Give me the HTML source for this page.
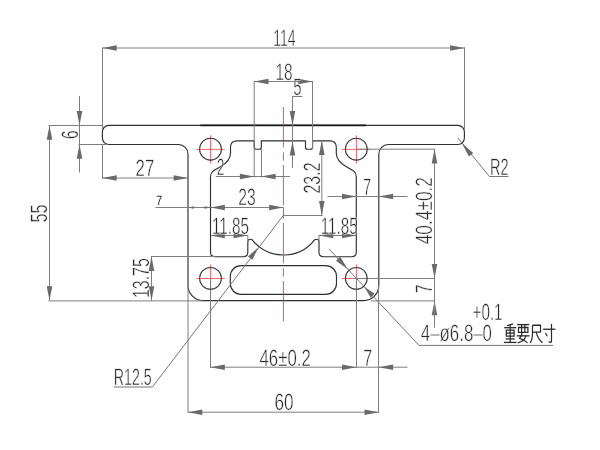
<!DOCTYPE html>
<html><head><meta charset="utf-8"><title>Profile drawing</title>
<style>
html,body{margin:0;padding:0;background:#fff;}
body{width:600px;height:450px;overflow:hidden;}
svg{display:block;will-change:transform;}
svg text{font-family:"Liberation Sans",sans-serif;text-rendering:geometricPrecision;stroke:#fff;stroke-width:0.45px;paint-order:fill stroke;}
</style></head>
<body>
<svg width="600" height="450" viewBox="0 0 600 450">
<rect x="0" y="0" width="600" height="450" fill="#ffffff"/>
<path d="M108.80000000000001,125.4 L458.0,125.4 A6.4,6.4 0 0 1 464.4,131.8 L464.4,138.1 A6.4,6.4 0 0 1 458.0,144.5 L388.29999999999995,144.5 A9.5,9.5 0 0 0 378.79999999999995,154.0 L378.79999999999995,285.6 A15.0,15.0 0 0 1 363.79999999999995,300.6 L203.0,300.6 A15.0,15.0 0 0 1 188.0,285.6 L188.0,154.0 A9.5,9.5 0 0 0 178.5,144.5 L108.80000000000001,144.5 A6.4,6.4 0 0 1 102.4,138.1 L102.4,131.8 A6.4,6.4 0 0 1 108.80000000000001,125.4 Z" fill="none" stroke="#303030" stroke-width="1.15" stroke-linejoin="round"/>
<line x1="200.30" y1="125.40" x2="366.00" y2="125.40" stroke="#1c1c1c" stroke-width="1.7" />
<path d="M210.5,176.5 C210.5,171 215.5,169.6 220.5,166.8 C225.5,163.9 230.3,160 230.5,153.5 L230.5,147.3 Q230.5,140.8 237.0,140.8 L254.2,140.8 L254.2,147.2 Q254.2,149.2 256.2,149.2 L259.3,149.2 Q261.3,149.2 261.3,147.2 L261.3,140.8 L305.49999999999994,140.8 L305.49999999999994,147.2 Q305.49999999999994,149.2 307.49999999999994,149.2 L310.59999999999997,149.2 Q312.59999999999997,149.2 312.59999999999997,147.2 L312.59999999999997,140.8 L329.79999999999995,140.8 Q336.29999999999995,140.8 336.29999999999995,147.3 L336.29999999999995,153.5 C336.49999999999994,160 341.29999999999995,163.9 346.29999999999995,166.8 C351.29999999999995,169.6 356.29999999999995,171 356.29999999999995,176.5 L356.29999999999995,252.2 Q356.29999999999995,256.7 351.79999999999995,256.7 L323.49999999999994,256.7 Q318.99999999999994,256.7 318.99999999999994,252.2 L318.99999999999994,242 C318.99999999999994,240 317.99999999999994,239.2 316.49999999999994,239.2 C315.59999999999997,239.2 315.09999999999997,239.4 314.59999999999997,239.8 A39.7,39.7 0 0 1 252.2,239.8 C251.7,239.4 251.2,239.2 250.3,239.2 C248.8,239.2 247.8,240 247.8,242 L247.8,252.2 Q247.8,256.7 243.3,256.7 L215.0,256.7 Q210.5,256.7 210.5,252.2 Z" fill="none" stroke="#303030" stroke-width="1.15" stroke-linejoin="round"/>
<rect x="230.3" y="265.6" width="106.20" height="28.8" rx="10.8" ry="10.8" fill="none" stroke="#303030" stroke-width="1.15"/>
<line x1="283.40" y1="107.00" x2="283.40" y2="322.50" stroke="#e8343a" stroke-width="0.85" stroke-dasharray="40.3 5 8.4 4.3"/>
<line x1="196.20" y1="149.40" x2="224.80" y2="149.40" stroke="#e8343a" stroke-width="0.75" />
<line x1="210.60" y1="135.40" x2="210.60" y2="163.50" stroke="#e8343a" stroke-width="0.75" />
<line x1="196.20" y1="278.50" x2="224.80" y2="278.50" stroke="#e8343a" stroke-width="0.75" />
<line x1="210.60" y1="264.50" x2="210.60" y2="292.60" stroke="#e8343a" stroke-width="0.75" />
<line x1="342.00" y1="149.40" x2="370.60" y2="149.40" stroke="#e8343a" stroke-width="0.75" />
<line x1="356.40" y1="135.40" x2="356.40" y2="163.50" stroke="#e8343a" stroke-width="0.75" />
<line x1="342.00" y1="278.50" x2="370.60" y2="278.50" stroke="#e8343a" stroke-width="0.75" />
<line x1="356.40" y1="264.50" x2="356.40" y2="292.60" stroke="#e8343a" stroke-width="0.75" />
<line x1="102.50" y1="47.30" x2="102.50" y2="129.40" stroke="#7e7e7e" stroke-width="1.0" />
<line x1="464.50" y1="47.30" x2="464.50" y2="129.40" stroke="#7e7e7e" stroke-width="1.0" />
<line x1="102.40" y1="48.00" x2="464.40" y2="48.00" stroke="#7e7e7e" stroke-width="1.0" />
<polygon points="102.40,48.00 116.70,45.20 116.70,50.80" fill="#6a6a6a"/>
<polygon points="464.40,48.00 450.10,50.80 450.10,45.20" fill="#6a6a6a"/>
<text x="273.30" y="45.80" font-size="23.6" textLength="22.30" lengthAdjust="spacingAndGlyphs" fill="#2a2a2a">114</text>
<line x1="254.20" y1="81.00" x2="254.20" y2="177.50" stroke="#7e7e7e" stroke-width="1.0" />
<line x1="312.50" y1="81.00" x2="312.50" y2="149.20" stroke="#7e7e7e" stroke-width="1.0" />
<line x1="254.20" y1="81.50" x2="312.60" y2="81.50" stroke="#7e7e7e" stroke-width="1.0" />
<polygon points="254.20,81.50 268.50,78.70 268.50,84.30" fill="#6a6a6a"/>
<polygon points="312.60,81.50 298.30,84.30 298.30,78.70" fill="#6a6a6a"/>
<text x="275.50" y="79.50" font-size="23.6" textLength="17.10" lengthAdjust="spacingAndGlyphs" fill="#2a2a2a">18</text>
<line x1="292.50" y1="96.50" x2="302.50" y2="96.50" stroke="#7e7e7e" stroke-width="1.0" />
<line x1="292.50" y1="96.20" x2="292.50" y2="168.00" stroke="#7e7e7e" stroke-width="1.0" />
<polygon points="292.50,125.40 289.70,111.10 295.30,111.10" fill="#6a6a6a"/>
<polygon points="292.50,141.30 295.30,155.60 289.70,155.60" fill="#6a6a6a"/>
<text x="293.30" y="94.50" font-size="23.6" textLength="8.30" lengthAdjust="spacingAndGlyphs" fill="#2a2a2a">5</text>
<line x1="48.50" y1="125.50" x2="102.40" y2="125.50" stroke="#7e7e7e" stroke-width="1.0" />
<line x1="78.50" y1="144.50" x2="106.40" y2="144.50" stroke="#7e7e7e" stroke-width="1.0" />
<line x1="79.50" y1="96.00" x2="79.50" y2="172.50" stroke="#7e7e7e" stroke-width="1.0" />
<polygon points="79.50,125.40 76.70,111.10 82.30,111.10" fill="#6a6a6a"/>
<polygon points="79.50,144.50 82.30,158.80 76.70,158.80" fill="#6a6a6a"/>
<text transform="translate(77.60,139.00) rotate(-90)" font-size="23.6" textLength="8.60" lengthAdjust="spacingAndGlyphs" fill="#2a2a2a">6</text>
<line x1="49.50" y1="125.40" x2="49.50" y2="300.60" stroke="#7e7e7e" stroke-width="1.0" />
<polygon points="49.50,125.40 52.30,139.70 46.70,139.70" fill="#6a6a6a"/>
<polygon points="49.50,300.60 46.70,286.30 52.30,286.30" fill="#6a6a6a"/>
<line x1="48.50" y1="300.90" x2="203.00" y2="300.90" stroke="#7e7e7e" stroke-width="1.0" />
<text transform="translate(47.30,222.50) rotate(-90)" font-size="23.6" textLength="18.00" lengthAdjust="spacingAndGlyphs" fill="#2a2a2a">55</text>
<line x1="102.50" y1="144.50" x2="102.50" y2="179.00" stroke="#7e7e7e" stroke-width="1.0" />
<line x1="102.40" y1="178.00" x2="188.00" y2="178.00" stroke="#7e7e7e" stroke-width="1.0" />
<polygon points="102.40,178.00 116.70,175.20 116.70,180.80" fill="#6a6a6a"/>
<polygon points="188.00,178.00 173.70,180.80 173.70,175.20" fill="#6a6a6a"/>
<text x="135.60" y="176.00" font-size="23.6" textLength="18.70" lengthAdjust="spacingAndGlyphs" fill="#2a2a2a">27</text>
<line x1="155.50" y1="207.50" x2="210.50" y2="207.50" stroke="#7e7e7e" stroke-width="1.0" />
<polygon points="188.00,207.50 194.00,206.20 194.00,208.80" fill="#6a6a6a"/>
<polygon points="210.50,207.50 204.50,208.80 204.50,206.20" fill="#6a6a6a"/>
<text x="156.30" y="205.30" font-size="13.3" textLength="5.90" lengthAdjust="spacingAndGlyphs" fill="#2a2a2a" style="stroke:none">7</text>
<line x1="210.50" y1="207.50" x2="283.40" y2="207.50" stroke="#7e7e7e" stroke-width="1.0" />
<polygon points="210.50,207.50 224.80,204.70 224.80,210.30" fill="#6a6a6a"/>
<polygon points="283.40,207.50 269.10,210.30 269.10,204.70" fill="#6a6a6a"/>
<line x1="283.50" y1="207.30" x2="283.50" y2="215.30" stroke="#7e7e7e" stroke-width="1.0" />
<text x="238.20" y="205.00" font-size="23.6" textLength="17.40" lengthAdjust="spacingAndGlyphs" fill="#2a2a2a">23</text>
<line x1="261.50" y1="149.20" x2="261.50" y2="177.50" stroke="#7e7e7e" stroke-width="1.0" />
<line x1="215.80" y1="176.50" x2="290.00" y2="176.50" stroke="#7e7e7e" stroke-width="1.0" />
<polygon points="254.20,176.50 239.90,179.30 239.90,173.70" fill="#6a6a6a"/>
<polygon points="261.30,176.50 275.60,173.70 275.60,179.30" fill="#6a6a6a"/>
<text x="217.00" y="174.70" font-size="23.6" textLength="7.20" lengthAdjust="spacingAndGlyphs" fill="#2a2a2a">2</text>
<line x1="283.40" y1="215.50" x2="322.50" y2="215.50" stroke="#7e7e7e" stroke-width="1.0" />
<line x1="321.80" y1="140.80" x2="321.80" y2="215.30" stroke="#7e7e7e" stroke-width="1.0" />
<polygon points="321.80,140.80 324.60,155.10 319.00,155.10" fill="#6a6a6a"/>
<polygon points="321.80,215.30 319.00,201.00 324.60,201.00" fill="#6a6a6a"/>
<text transform="translate(319.80,193.50) rotate(-90)" font-size="23.6" textLength="31.00" lengthAdjust="spacingAndGlyphs" fill="#2a2a2a">23.2</text>
<line x1="327.50" y1="196.50" x2="407.50" y2="196.50" stroke="#7e7e7e" stroke-width="1.0" />
<polygon points="356.30,196.50 342.00,199.30 342.00,193.70" fill="#6a6a6a"/>
<polygon points="378.80,196.50 393.10,193.70 393.10,199.30" fill="#6a6a6a"/>
<text x="363.20" y="194.50" font-size="23.6" textLength="7.80" lengthAdjust="spacingAndGlyphs" fill="#2a2a2a">7</text>
<line x1="356.30" y1="149.20" x2="435.20" y2="149.20" stroke="#7e7e7e" stroke-width="1.0" />
<line x1="356.30" y1="278.50" x2="435.20" y2="278.50" stroke="#7e7e7e" stroke-width="1.0" />
<line x1="434.50" y1="149.20" x2="434.50" y2="278.30" stroke="#7e7e7e" stroke-width="1.0" />
<polygon points="434.50,149.20 437.30,163.50 431.70,163.50" fill="#6a6a6a"/>
<polygon points="434.50,278.30 431.70,264.00 437.30,264.00" fill="#6a6a6a"/>
<text transform="translate(432.30,244.30) rotate(-90)" font-size="23.6" textLength="67.30" lengthAdjust="spacingAndGlyphs" fill="#2a2a2a">40.4±0.2</text>
<line x1="370.80" y1="300.90" x2="435.20" y2="300.90" stroke="#7e7e7e" stroke-width="1.0" />
<polygon points="434.50,300.90 437.30,315.20 431.70,315.20" fill="#6a6a6a"/>
<line x1="434.50" y1="278.30" x2="434.50" y2="327.50" stroke="#7e7e7e" stroke-width="1.0" />
<text transform="translate(432.30,293.00) rotate(-90)" font-size="23.6" textLength="8.40" lengthAdjust="spacingAndGlyphs" fill="#2a2a2a">7</text>
<line x1="151.00" y1="256.50" x2="215.50" y2="256.50" stroke="#7e7e7e" stroke-width="1.0" />
<line x1="151.50" y1="256.60" x2="151.50" y2="300.60" stroke="#7e7e7e" stroke-width="1.0" />
<polygon points="151.50,256.60 154.30,270.90 148.70,270.90" fill="#6a6a6a"/>
<polygon points="151.50,300.60 148.70,286.30 154.30,286.30" fill="#6a6a6a"/>
<text transform="translate(149.30,298.00) rotate(-90)" font-size="23.6" textLength="39.80" lengthAdjust="spacingAndGlyphs" fill="#2a2a2a">13.75</text>
<line x1="210.50" y1="235.50" x2="247.80" y2="235.50" stroke="#7e7e7e" stroke-width="1.0" />
<polygon points="210.50,235.50 224.80,232.70 224.80,238.30" fill="#6a6a6a"/>
<polygon points="247.80,235.50 233.50,238.30 233.50,232.70" fill="#6a6a6a"/>
<line x1="247.80" y1="235.00" x2="247.80" y2="243.00" stroke="#7e7e7e" stroke-width="1.0" />
<text x="212.00" y="233.80" font-size="23.6" textLength="37.00" lengthAdjust="spacingAndGlyphs" fill="#2a2a2a">11.85</text>
<line x1="319.00" y1="235.50" x2="356.30" y2="235.50" stroke="#7e7e7e" stroke-width="1.0" />
<polygon points="319.00,235.50 333.30,232.70 333.30,238.30" fill="#6a6a6a"/>
<polygon points="356.30,235.50 342.00,238.30 342.00,232.70" fill="#6a6a6a"/>
<line x1="319.00" y1="235.00" x2="319.00" y2="243.00" stroke="#7e7e7e" stroke-width="1.0" />
<text x="320.80" y="233.80" font-size="23.6" textLength="36.80" lengthAdjust="spacingAndGlyphs" fill="#2a2a2a">11.85</text>
<line x1="283.40" y1="215.30" x2="152.50" y2="386.80" stroke="#767676" stroke-width="1.0" />
<line x1="113.80" y1="387.00" x2="152.50" y2="387.00" stroke="#767676" stroke-width="1.0" />
<polygon points="258.20,247.60 252.36,259.87 247.90,256.47" fill="#6a6a6a"/>
<text x="113.80" y="385.00" font-size="23.6" textLength="38.00" lengthAdjust="spacingAndGlyphs" fill="#2a2a2a">R12.5</text>
<line x1="210.50" y1="278.30" x2="210.50" y2="368.00" stroke="#7e7e7e" stroke-width="1.0" />
<line x1="356.50" y1="278.30" x2="356.50" y2="368.00" stroke="#7e7e7e" stroke-width="1.0" />
<line x1="210.50" y1="367.20" x2="356.30" y2="367.20" stroke="#7e7e7e" stroke-width="1.0" />
<polygon points="210.50,367.20 224.80,364.40 224.80,370.00" fill="#6a6a6a"/>
<polygon points="356.30,367.20 342.00,370.00 342.00,364.40" fill="#6a6a6a"/>
<text x="259.50" y="365.80" font-size="23.6" textLength="51.30" lengthAdjust="spacingAndGlyphs" fill="#2a2a2a">46±0.2</text>
<line x1="356.30" y1="367.20" x2="407.50" y2="367.20" stroke="#7e7e7e" stroke-width="1.0" />
<polygon points="378.80,367.20 393.10,364.40 393.10,370.00" fill="#6a6a6a"/>
<text x="363.20" y="365.80" font-size="23.6" textLength="9.00" lengthAdjust="spacingAndGlyphs" fill="#2a2a2a">7</text>
<line x1="188.00" y1="285.60" x2="188.00" y2="413.00" stroke="#7e7e7e" stroke-width="1.0" />
<line x1="378.50" y1="285.60" x2="378.50" y2="413.00" stroke="#7e7e7e" stroke-width="1.0" />
<line x1="188.00" y1="412.20" x2="378.80" y2="412.20" stroke="#7e7e7e" stroke-width="1.0" />
<polygon points="188.00,412.20 202.30,409.40 202.30,415.00" fill="#6a6a6a"/>
<polygon points="378.80,412.20 364.50,415.00 364.50,409.40" fill="#6a6a6a"/>
<text x="274.50" y="409.50" font-size="23.6" textLength="19.10" lengthAdjust="spacingAndGlyphs" fill="#2a2a2a">60</text>
<line x1="457.60" y1="137.60" x2="489.30" y2="176.30" stroke="#767676" stroke-width="1.0" />
<line x1="489.30" y1="176.50" x2="508.50" y2="176.50" stroke="#767676" stroke-width="1.0" />
<polygon points="462.00,143.60 473.23,152.89 468.90,156.44" fill="#6a6a6a"/>
<text x="490.00" y="175.00" font-size="23.6" textLength="18.60" lengthAdjust="spacingAndGlyphs" fill="#2a2a2a">R2</text>
<line x1="329.20" y1="249.20" x2="418.80" y2="345.20" stroke="#767676" stroke-width="1.0" />
<line x1="418.80" y1="345.40" x2="553.00" y2="345.40" stroke="#767676" stroke-width="1.0" />
<polygon points="347.80,269.20 336.00,260.66 340.09,256.84" fill="#6a6a6a"/>
<polygon points="364.50,287.00 374.73,293.86 370.64,297.68" fill="#6a6a6a"/>
<text x="472.50" y="320.00" font-size="23.6" textLength="30.10" lengthAdjust="spacingAndGlyphs" fill="#2a2a2a">+0.1</text>
<text x="420.80" y="341.30" font-size="23.6" textLength="71.20" lengthAdjust="spacingAndGlyphs" fill="#2a2a2a">4–ø6.8–0</text>
<circle cx="210.50" cy="149.2" r="10.9" fill="none" stroke="#383838" stroke-width="1.05"/>
<circle cx="210.50" cy="278.3" r="10.9" fill="none" stroke="#383838" stroke-width="1.05"/>
<circle cx="356.30" cy="149.2" r="10.9" fill="none" stroke="#383838" stroke-width="1.05"/>
<circle cx="356.30" cy="278.3" r="10.9" fill="none" stroke="#383838" stroke-width="1.05"/>
<g transform="translate(503.90,323.30) scale(1,1.1)" fill="none" stroke="#2a2a2a" stroke-width="1.2" stroke-linecap="butt">
<path d="M9.2,0.6 L3.2,2.2"/>
<path d="M0.3,4 H12.3"/>
<path d="M2.4,6.2 H10.2 V11.6 H2.4 Z"/>
<path d="M2.4,8.9 H10.2"/>
<path d="M6.3,1.6 V17.2"/>
<path d="M1.8,14.2 H10.8"/>
<path d="M0,17.4 H12.6"/>
</g>
<g transform="translate(516.90,323.30) scale(1,1.1)" fill="none" stroke="#2a2a2a" stroke-width="1.2" stroke-linecap="butt">
<path d="M0.3,1.2 H12.3"/>
<path d="M1.6,3.8 H11 V8.2 H1.6 Z"/>
<path d="M4.7,1.2 V8.2"/>
<path d="M7.9,1.2 V8.2"/>
<path d="M0,11.4 H12.6"/>
<path d="M5.2,8.6 C4.6,10.8 3.6,12.6 2.8,13.6 C5.6,14.4 8.6,16 10.6,17.8"/>
<path d="M9,11.4 C8.2,14.6 5.2,16.8 0.8,17.8"/>
</g>
<g transform="translate(529.90,323.30) scale(1,1.1)" fill="none" stroke="#2a2a2a" stroke-width="1.2" stroke-linecap="butt">
<path d="M2.6,1.8 H10.6 V8 H2.6"/>
<path d="M2.6,1.8 V9 C2.6,13 1.8,16 0.2,17.8"/>
<path d="M6.2,8 C7.4,12 9.6,15.6 12.6,17.6"/>
</g>
<g transform="translate(542.90,323.30) scale(1,1.1)" fill="none" stroke="#2a2a2a" stroke-width="1.2" stroke-linecap="butt">
<path d="M0.2,5.4 H12.4"/>
<path d="M8.6,0.6 V16.2 C8.6,17.4 7.8,17.6 5.8,16.6"/>
<path d="M2.6,8.8 L4.4,11.8"/>
</g>
</svg>
</body></html>
